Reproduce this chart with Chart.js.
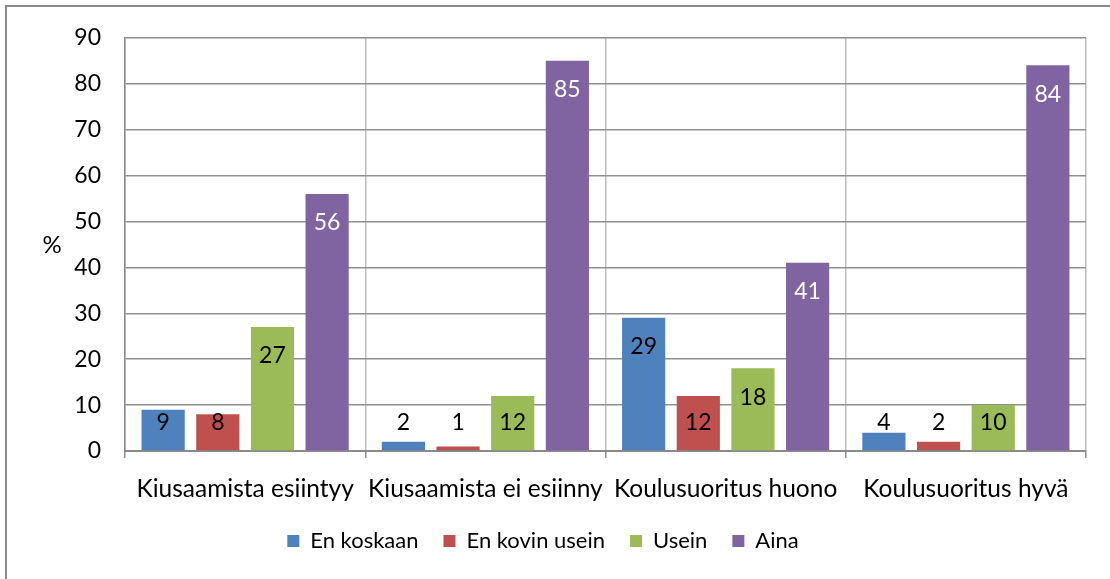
<!DOCTYPE html>
<html>
<head>
<meta charset="utf-8">
<script src="https://cdn.jsdelivr.net/npm/chart.js@4/dist/chart.umd.min.js"></script>
<style>
    html, body { margin: 0; padding: 0; background: #fff; }
    #wrap { width: 1110px; height: 579px; position: relative; }
</style>
</head>
<body>
<div id="wrap"><canvas id="myChart" width="1110" height="579"></canvas></div>
<script>
var categories = ['Kiusaamista esiintyy', 'Kiusaamista ei esiinny', 'Koulusuoritus huono', 'Koulusuoritus hyvä'];
var en_koskaan = [9, 2, 29, 4];
var en_kovin_usein = [8, 1, 12, 2];
var usein = [27, 12, 18, 10];
var aina = [56, 85, 41, 84];
var y_ticks = [0, 10, 20, 30, 40, 50, 60, 70, 80, 90];

var font_family = 'Lato, "Open Sans", sans-serif';

// value labels at the inside end of each bar, like in the original
var valueLabels = {
    id: 'valueLabels',
    afterDatasetsDraw: function (chart) {
        var ctx = chart.ctx;
        var bottom = chart.chartArea.bottom;
        ctx.save();
        ctx.font = '23px ' + font_family;
        ctx.textAlign = 'center';
        ctx.textBaseline = 'middle';
        chart.data.datasets.forEach(function (ds, i) {
            var meta = chart.getDatasetMeta(i);
            meta.data.forEach(function (bar, j) {
                var y = Math.min(bar.y + 29, bottom - 28);
                ctx.fillStyle = i == 3 ? '#ffffff' : '#000000';
                ctx.fillText(ds.data[j], bar.x, y);
            });
        });
        ctx.restore();
    }
};

// frame and the "%" axis label
var extras = {
    id: 'extras',
    afterDraw: function (chart) {
        var ctx = chart.ctx;
        ctx.save();
        ctx.strokeStyle = '#8a8a8a';
        ctx.lineWidth = 2;
        ctx.beginPath();
        ctx.moveTo(6, 600);
        ctx.lineTo(6, 6);
        ctx.lineTo(1200, 6);
        ctx.stroke();
        ctx.fillStyle = '#000';
        ctx.font = '24px ' + font_family;
        ctx.textAlign = 'center';
        ctx.textBaseline = 'middle';
        ctx.fillText('%', 52, 245);
        ctx.restore();
    }
};

var ctx = document.getElementById('myChart').getContext('2d');
var config = {
    type: 'bar',
    data: {
        labels: categories,
        datasets: [{
            label: 'En koskaan',
            data: en_koskaan,
            backgroundColor: '#4f81bd'
        }, {
            label: 'En kovin usein',
            data: en_kovin_usein,
            backgroundColor: '#c0504d'
        }, {
            label: 'Usein',
            data: usein,
            backgroundColor: '#9bbb59'
        }, {
            label: 'Aina',
            data: aina,
            backgroundColor: '#8064a2'
        }]
    },
    options: {
        responsive: false,
        animation: false,
        layout: {
            padding: { left: 0, right: 24, top: 33, bottom: 17 }
        },
        datasets: {
            bar: { categoryPercentage: 0.91, barPercentage: 0.79 }
        },
        plugins: {
            tooltip: { enabled: false },
            legend: {
                position: 'bottom',
                labels: {
                    boxWidth: 12,
                    boxHeight: 12,
                    padding: 25,
                    color: '#000',
                    font: { family: font_family, size: 22 }
                }
            }
        },
        scales: {
            x: {
                afterFit: function (scale) { scale.height = 54; },
                grid: {
                    color: '#bdbdbd',
                    lineWidth: 1.5,
                    tickLength: 7,
                    tickColor: '#8a8a8a'
                },
                border: { color: '#8a8a8a', width: 2 },
                ticks: {
                    color: '#000',
                    padding: 16,
                    maxRotation: 0,
                    autoSkip: false,
                    font: { family: font_family, size: 24.5 }
                }
            },
            y: {
                min: 0,
                max: 90,
                afterFit: function (scale) { scale.width = 125; },
                afterBuildTicks: function (scale) {
                    scale.ticks = y_ticks.map(function (v) { return { value: v }; });
                },
                grid: {
                    color: '#8f8f8f',
                    lineWidth: 1.5,
                    drawTicks: false
                },
                border: { color: '#8a8a8a', width: 1.5 },
                ticks: {
                    color: '#000',
                    padding: 24,
                    font: { family: font_family, size: 23 }
                }
            }
        }
    },
    plugins: [valueLabels, extras]
};

var chart = new Chart(ctx, config);
</script>
</body>
</html>
